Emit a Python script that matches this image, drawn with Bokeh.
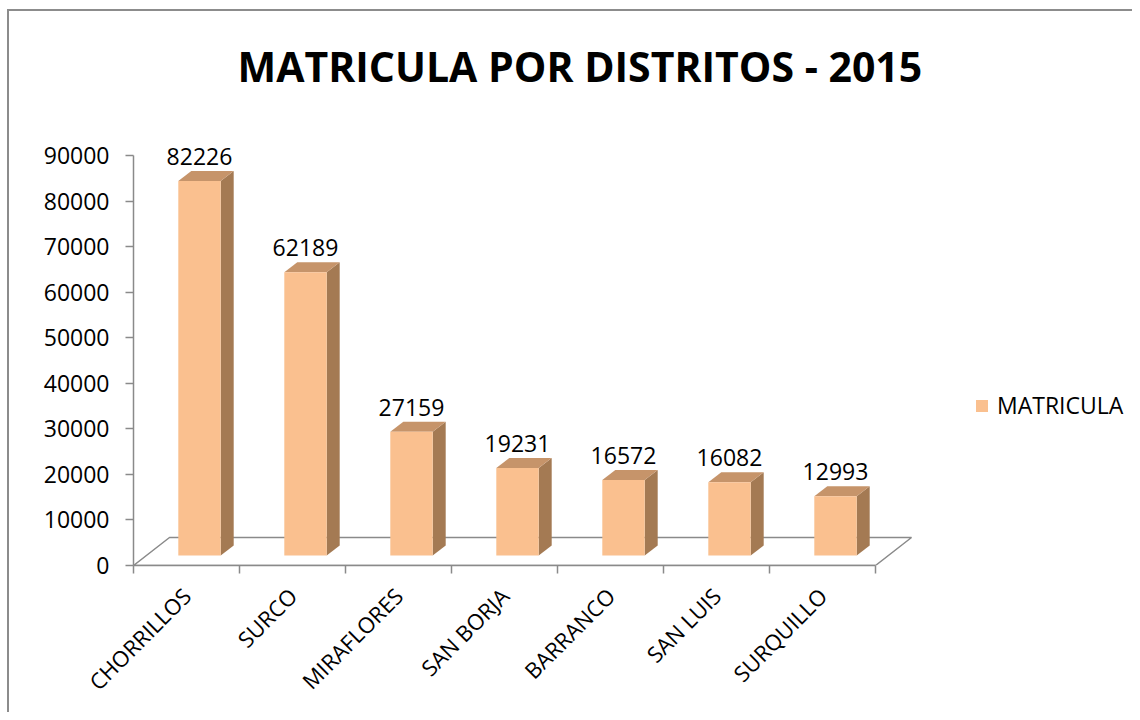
import numpy as np
from bokeh.plotting import figure
from bokeh.models import (ColumnDataSource, FixedTicker, LabelSet, Legend,
                          LegendItem, Range1d)
from bokeh.embed import file_html
from bokeh.resources import INLINE
from bokeh.core.properties import value

# ---------------- data ----------------
CATEGORIES = ["CHORRILLOS", "SURCO", "MIRAFLORES", "SAN BORJA",
              "BARRANCO", "SAN LUIS", "SURQUILLO"]
VALUES = [82226, 62189, 27159, 19231, 16572, 16082, 12993]
SERIES_NAME = "MATRICULA"
TITLE = "MATRICULA POR DISTRITOS - 2015"
Y_TICKS = [0, 10000, 20000, 30000, 40000, 50000, 60000, 70000, 80000, 90000]

# ---------------- layout / style ----------------
FONT = "Open Sans"
FRONT = "#FAC08F"
SIDE = "#A47A53"
TOP = "#C6946A"
AXIS_GRAY = "#8A8A8A"
BORDER_GRAY = "#8c8c8c"

FIG_W, FIG_H = 1132, 712
BORDER_L, BORDER_T, BORDER_B = 133, 130, 147
FRAME_W = FIG_W - BORDER_L
FRAME_H = FIG_H - BORDER_T - BORDER_B
CELL_PX = 106.0
X_START = -0.5
X_END = X_START + FRAME_W / CELL_PX
Y_END = 10000.0 * FRAME_H / 45.56
PXX = (X_END - X_START) / FRAME_W   # x data units per pixel
PXY = Y_END / FRAME_H               # y data units per pixel

n = len(CATEGORIES)
xc = np.arange(n, dtype=float)
vals = np.array(VALUES, dtype=float)

# bar geometry (pseudo 3D)
HALF_W = 0.2
BAR_DX, BAR_DY = 13 * PXX, 10 * PXY      # depth offset of bar front face
SIDE_DX, SIDE_DY = 13 * PXX, 10 * PXY    # bar depth
FLOOR_DX, FLOOR_DY = 36 * PXX, 28 * PXY  # floor depth

left = xc - HALF_W + BAR_DX
right = xc + HALF_W + BAR_DX
bottom = np.full(n, BAR_DY)
top = vals + BAR_DY

grad = f"linear-gradient({BORDER_GRAY}, {BORDER_GRAY})"
p = figure(frame_width=FRAME_W, frame_height=FRAME_H,
           x_range=Range1d(X_START, X_END), y_range=Range1d(0, Y_END),
           output_backend="svg", toolbar_location=None,
           min_border_left=BORDER_L, min_border_top=BORDER_T,
           min_border_bottom=BORDER_B, min_border_right=0,
           background_fill_color="white", border_fill_color=None,
           styles={"background-color": "white",
                   "background-image": f"{grad}, {grad}",
                   "background-size": "2px 100%, 100% 2px",
                   "background-position": "7px 9px, 7px 9px",
                   "background-repeat": "no-repeat"})
p.outline_line_color = None
p.xgrid.visible = False
p.ygrid.visible = False

# title
p.title.text = TITLE
p.title.text_font = FONT
p.title.text_font_size = "41px"
p.title.text_font_style = "bold"
p.title.text_color = "#000000"
p.title.align = "left"
p.title.vertical_align = "top"
p.title.offset = 104
p.title.standoff = 70

# floor
p.patch(x=[X_START, n - 0.5, n - 0.5 + FLOOR_DX, X_START + FLOOR_DX],
        y=[0, 0, FLOOR_DY, FLOOR_DY],
        fill_color=None, line_color=AXIS_GRAY, line_width=1.5)

# side faces
side_xs = [[r, r + SIDE_DX, r + SIDE_DX, r] for r in right]
side_ys = [[b, b + SIDE_DY, t + SIDE_DY, t] for b, t in zip(bottom, top)]
p.patches(xs=side_xs, ys=side_ys, fill_color=SIDE, line_color=None)

# top faces
top_xs = [[l, r, r + SIDE_DX, l + SIDE_DX] for l, r in zip(left, right)]
top_ys = [[t, t, t + SIDE_DY, t + SIDE_DY] for t in top]
p.patches(xs=top_xs, ys=top_ys, fill_color=TOP, line_color=None)

# front faces
src = ColumnDataSource(dict(left=left, right=right, bottom=bottom, top=top,
                            xlab=xc + BAR_DX, ylab=top,
                            txt=[str(v) for v in VALUES]))
front = p.quad(left="left", right="right", bottom="bottom", top="top",
               source=src, fill_color=FRONT, line_color=None)

labels = LabelSet(x="xlab", y="ylab", text="txt", source=src,
                  text_align="center", text_baseline="alphabetic",
                  y_offset=16, text_font=value(FONT),
                  text_font_size="23px", text_color="#000000")
p.add_layout(labels)

# legend
legend = Legend(items=[LegendItem(label=SERIES_NAME, renderers=[front])],
                location=(841, 144), padding=0, margin=0, spacing=0,
                glyph_width=15, glyph_height=15, label_standoff=8,
                border_line_color=None, background_fill_alpha=0,
                label_text_font=FONT, label_text_font_size="23px",
                label_text_color="#000000")
p.add_layout(legend)

# x axis
xa = p.xaxis[0]
xa.ticker = FixedTicker(ticks=list(range(n)),
                        minor_ticks=[i - 0.5 for i in range(n + 1)])
xa.major_label_overrides = {i: c for i, c in enumerate(CATEGORIES)}
xa.major_label_orientation = np.pi / 4
xa.major_tick_line_color = None
xa.minor_tick_line_color = AXIS_GRAY
xa.minor_tick_line_width = 1.5
xa.minor_tick_out = 8
xa.minor_tick_in = 0
xa.axis_line_color = AXIS_GRAY
xa.axis_line_width = 1.5
xa.bounds = (-0.5, n - 0.5)
xa.major_label_text_font = FONT
xa.major_label_text_font_size = "22px"
xa.major_label_text_color = "#000000"
xa.major_label_standoff = 18

# y axis
ya = p.yaxis[0]
ya.ticker = FixedTicker(ticks=Y_TICKS)
ya.bounds = (0, Y_TICKS[-1])
ya.axis_line_color = AXIS_GRAY
ya.axis_line_width = 1.5
ya.major_tick_line_color = AXIS_GRAY
ya.major_tick_line_width = 1.5
ya.major_tick_out = 8
ya.major_tick_in = 0
ya.minor_tick_line_color = None
ya.major_label_text_font = FONT
ya.major_label_text_font_size = "23px"
ya.major_label_text_color = "#000000"
ya.major_label_standoff = 16

open("out.html", "w").write(file_html(p, INLINE))
